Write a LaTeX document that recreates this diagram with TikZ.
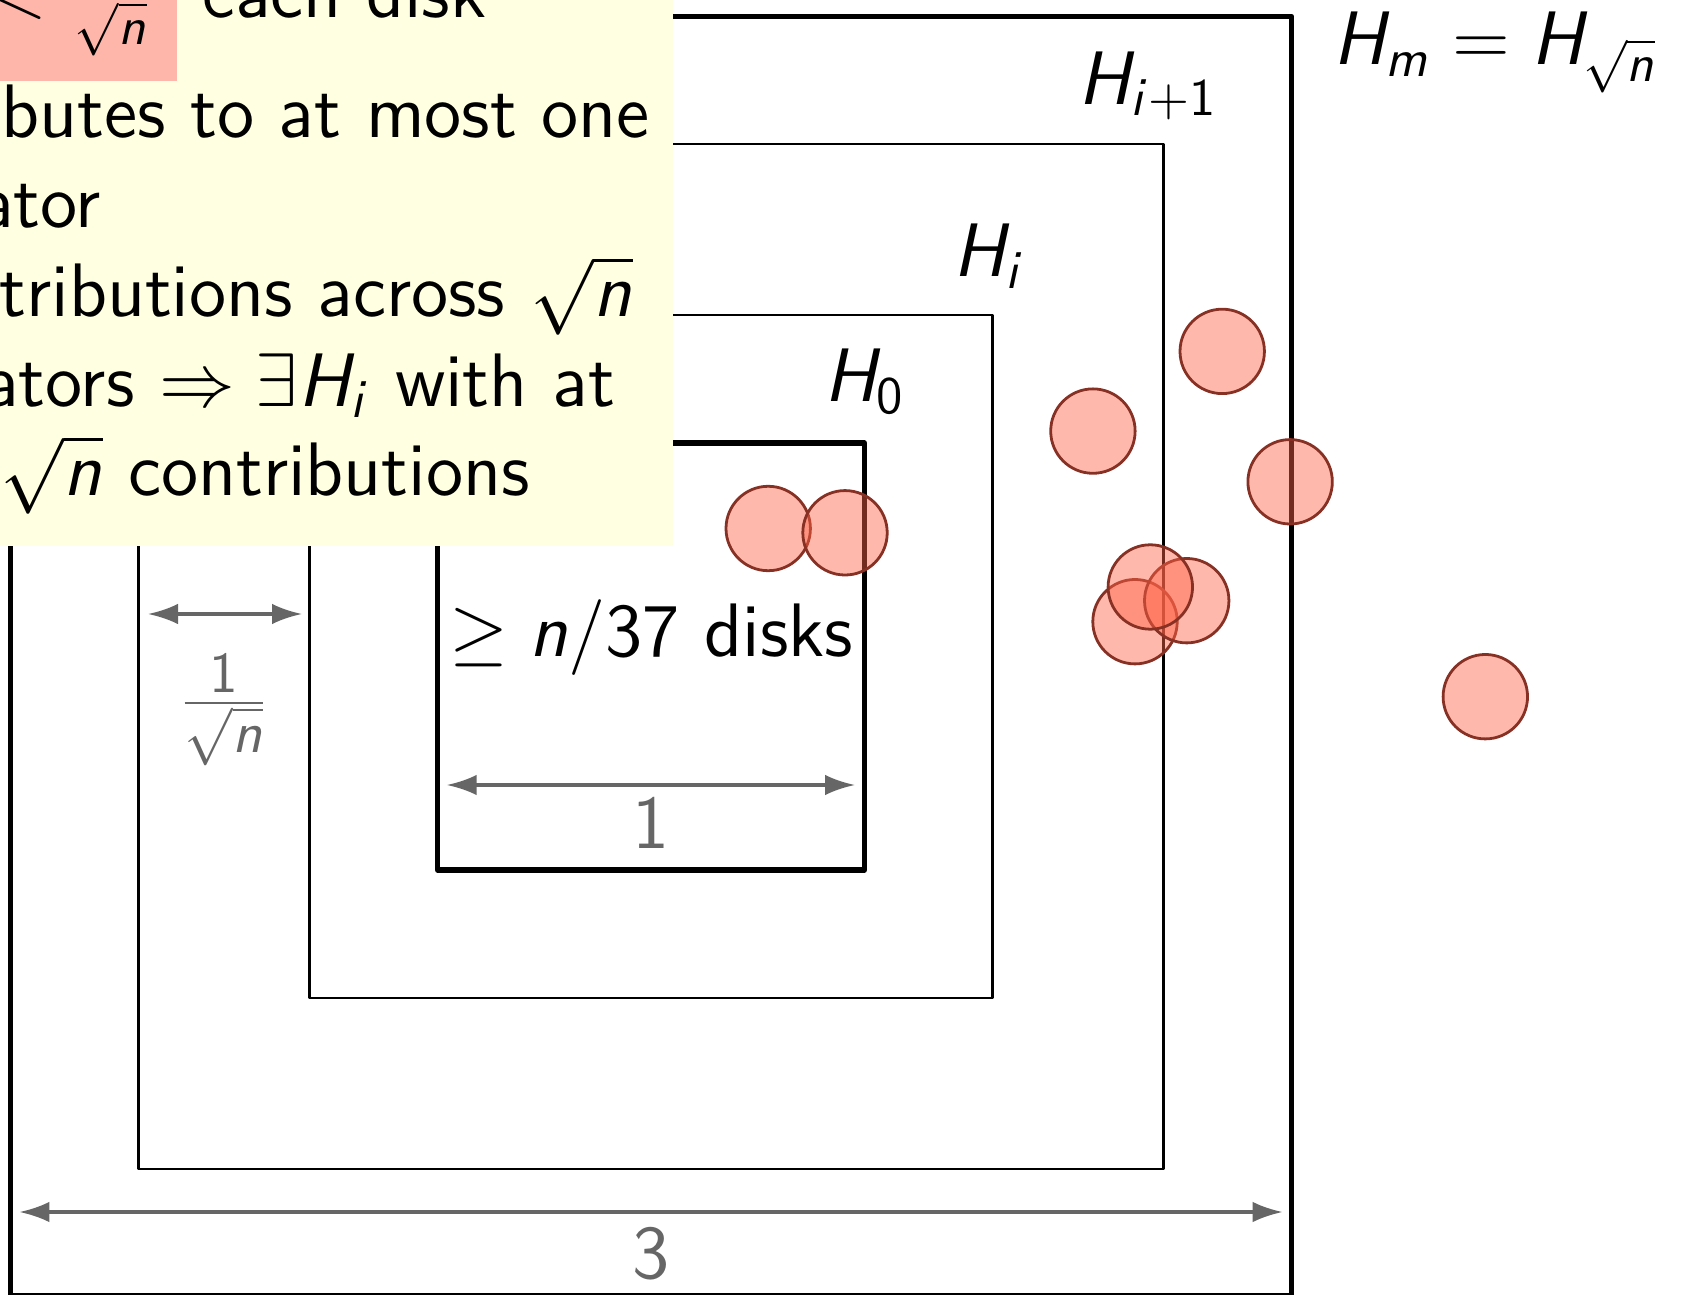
\documentclass[tikz,border=0pt]{standalone}
\usetikzlibrary{arrows.meta}
\renewcommand\familydefault{\sfdefault}
\DeclareSymbolFont{oldletters}{OML}{cmm}{m}{it}
\DeclareMathVersion{sans}
\SetSymbolFont{operators}{sans}{OT1}{cmss}{m}{n}
\SetSymbolFont{letters}{sans}{OT1}{cmss}{m}{it}
\SetSymbolFont{symbols}{sans}{OMS}{cmsy}{m}{n}
\SetSymbolFont{largesymbols}{sans}{OMX}{cmex}{m}{n}
\SetSymbolFont{oldletters}{sans}{OML}{cmm}{m}{it}
\DeclareMathSymbol{<}{\mathrel}{oldletters}{"3C}
\DeclareMathSymbol{/}{\mathord}{oldletters}{"3D}
\AtBeginDocument{\mathversion{sans}}
\definecolor{boxbg}{RGB}{255,255,225}
\definecolor{pinkhl}{RGB}{255,182,170}
\definecolor{tomato}{RGB}{255,99,71}
\definecolor{diskline}{RGB}{135,48,36}
\definecolor{dimgray}{RGB}{102,102,102}
\tikzset{
  sq/.style={line join=round},
  thicksq/.style={sq, line width=0.97pt},
  thinsq/.style={sq, line width=0.48pt},
  disk/.style={circle, draw=diskline, fill=tomato, fill opacity=0.45, draw opacity=1,
    line width=0.53pt, minimum size=16.04pt, inner sep=0pt},
  dim/.style={draw=dimgray, line width=0.63pt,
    {Latex[length=5.7pt,width=3.9pt]}-{Latex[length=5.7pt,width=3.9pt]}},
  lab/.style={inner sep=0pt, font=\fontsize{14.4}{17.5}\selectfont\mathversion{sans}},
  glab/.style={lab, text=dimgray},
  gfrac/.style={inner sep=0pt, text=dimgray, font=\fontsize{15.6}{18}\selectfont\mathversion{sans}},
}
\begin{document}
\begin{tikzpicture}[x=0.19pt, y=-0.19pt]
\useasboundingbox (0,0) rectangle (1690,1295);
\clip (0,0) rectangle (1690,1295);
% separator squares
\draw[thicksq] (437.5,443) rectangle (864.5,870);
\draw[thinsq] (309.4,314.8) rectangle (992.6,998);
\draw[thinsq] (138.6,144) rectangle (1163.4,1168.8);
\draw[thicksq] (10.5,16.5) rectangle (1291.6,1295.5);
% labels of squares
\node[lab, anchor=base west] (H0) at (823,402) {$H_0$};
\node[lab, anchor=base west] (Hi) at (952,277) {$H_i$};
\node[lab, anchor=base west] (Hi1) at (1077.6,104.5) {$H_{i+1}$};
\node[lab, anchor=base west] (Hm) at (1332.7,64.7) {$H_m = H_{\sqrt{n}}$};
\node[lab, anchor=base west] (dk) at (448,656.7) {$\geq n/37$ disks};
% dimension arrows
\coordinate (a1l) at (148,614);
\coordinate (a1r) at (302,614);
\coordinate (b1l) at (446.7,785);
\coordinate (b1r) at (855,785);
\coordinate (c1l) at (19.4,1212);
\coordinate (c1r) at (1282.6,1212);
\draw[dim] (a1l) -- (a1r);
\draw[dim] (b1l) -- (b1r);
\draw[dim] (c1l) -- (c1r);
\node[gfrac, anchor=base] (lf) at (224,722) {$\frac{1}{\sqrt{n}}$};
\node[glab, anchor=base] (l1) at (651,849) {1};
\node[glab, anchor=base] (l3) at (651,1278) {3};
% disks
\node[disk] (d1) at (768.2,528.5) {};
\node[disk] (d2) at (845,532.8) {};
\node[disk] (d3) at (1092.9,431.1) {};
\node[disk] (d4) at (1222.2,351.4) {};
\node[disk] (d5) at (1290.1,481.8) {};
\node[disk] (d8) at (1135,621.7) {};
\node[disk] (d7) at (1186.7,600.7) {};
\node[disk] (d6) at (1150.3,587) {};
\node[disk] (d9) at (1485.3,696.7) {};
% text box
\fill[boxbg] (-10,-10) rectangle (673,546);
\fill[pinkhl] (-10,-10) rectangle (177,80.6);
\node[lab, anchor=base east] (t1m) at (154,17.5) {$<\frac{}{\sqrt{n}}$};
\node[lab, anchor=base west] (t1) at (201,17.5) {each disk};
\node[lab, anchor=base east] (t2) at (651,138) {butes to at most one};
\node[lab, anchor=base east] (t3) at (102,227.5) {ator};
\node[lab, anchor=base east] (t4) at (634,317) {tributions across $\sqrt{n}$};
\node[lab, anchor=base east] (t5) at (616,406.5) {ators $\Rightarrow \exists H_i$ with at};
\node[lab, anchor=base west] (t6) at (-0.5,496) {$\sqrt{n}$ contributions};
\end{tikzpicture}
\end{document}
